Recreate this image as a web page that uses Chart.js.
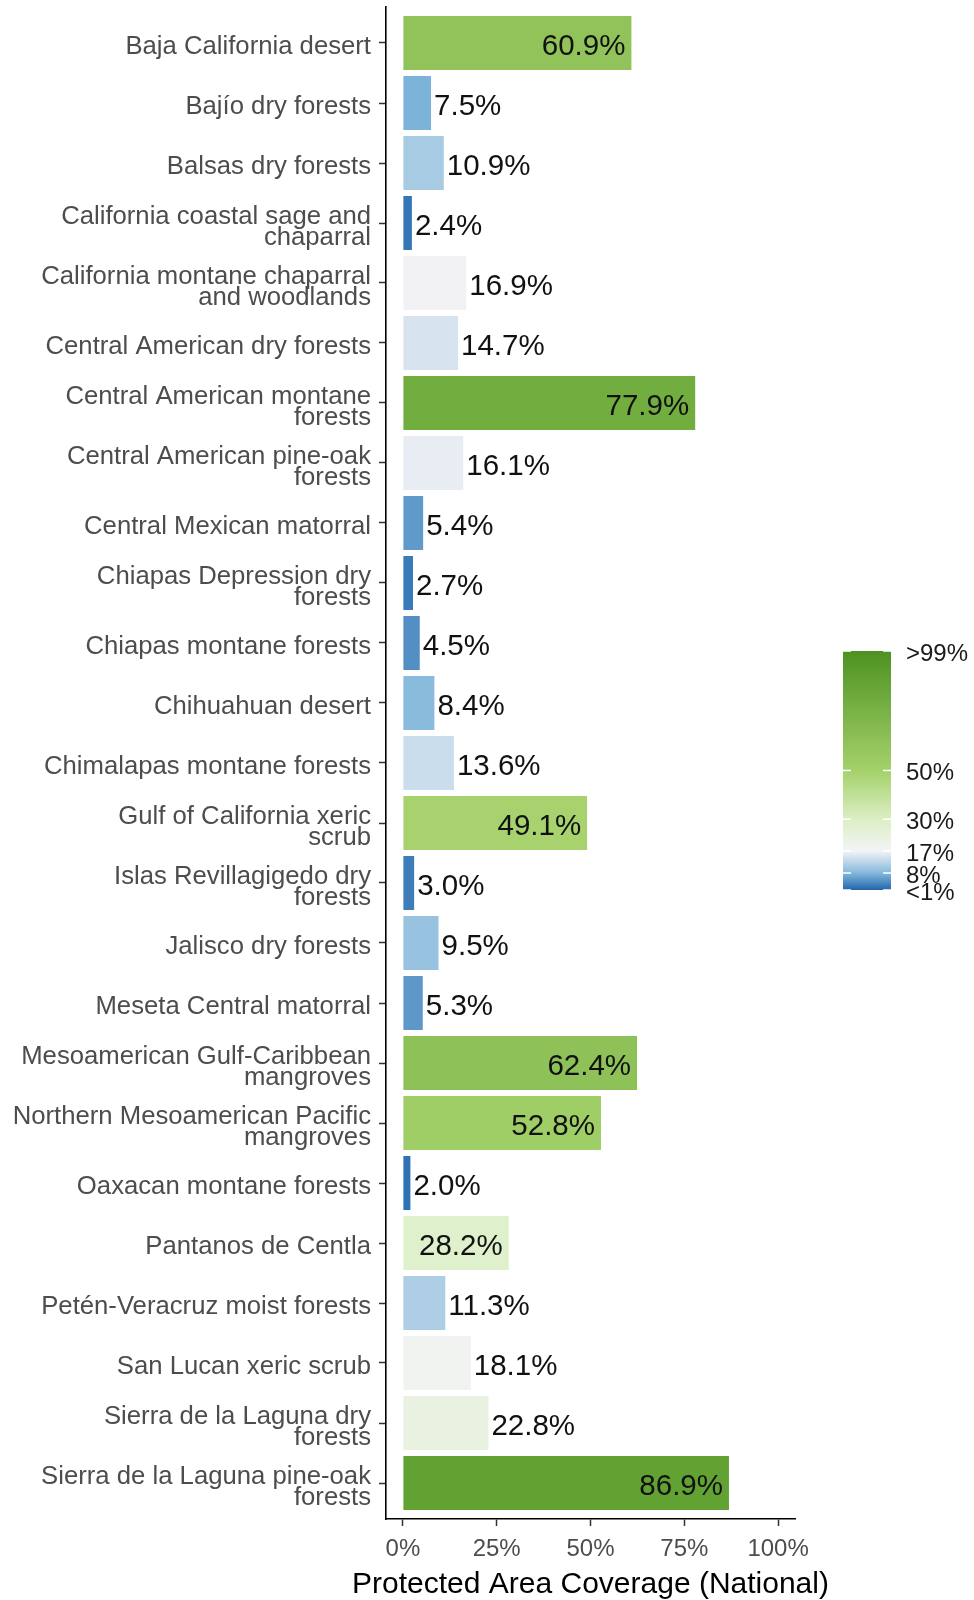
<!DOCTYPE html>
<html>
<head>
<meta charset="utf-8">
<script src="https://cdn.jsdelivr.net/npm/chart.js@4/dist/chart.umd.min.js"></script>
<style>
  body { margin: 0; background: #fff; }
  #wrap { width: 974px; height: 1600px; position: relative; }
</style>
</head>
<body>
<div id="wrap"><canvas id="chart"></canvas></div>
<script>
// --- Data ---
const ECOREGIONS = [
  ["Baja California desert"],
  ["Bajío dry forests"],
  ["Balsas dry forests"],
  ["California coastal sage and", "chaparral"],
  ["California montane chaparral", "and woodlands"],
  ["Central American dry forests"],
  ["Central American montane", "forests"],
  ["Central American pine-oak", "forests"],
  ["Central Mexican matorral"],
  ["Chiapas Depression dry", "forests"],
  ["Chiapas montane forests"],
  ["Chihuahuan desert"],
  ["Chimalapas montane forests"],
  ["Gulf of California xeric", "scrub"],
  ["Islas Revillagigedo dry", "forests"],
  ["Jalisco dry forests"],
  ["Meseta Central matorral"],
  ["Mesoamerican Gulf-Caribbean", "mangroves"],
  ["Northern Mesoamerican Pacific", "mangroves"],
  ["Oaxacan montane forests"],
  ["Pantanos de Centla"],
  ["Petén-Veracruz moist forests"],
  ["San Lucan xeric scrub"],
  ["Sierra de la Laguna dry", "forests"],
  ["Sierra de la Laguna pine-oak", "forests"],
];

const COVERAGE = [
  60.9, 7.5, 10.9, 2.4, 16.9, 14.7, 77.9, 16.1, 5.4, 2.7, 4.5, 8.4, 13.6,
  49.1, 3.0, 9.5, 5.3, 62.4, 52.8, 2.0, 28.2, 11.3, 18.1, 22.8, 86.9,
];

const X_TICKS = [0, 25, 50, 75, 100];
const X_TITLE = "Protected Area Coverage (National)";

// colour scale breaks (legend)
const LEGEND_BREAKS = [1, 8, 17, 30, 50, 99];
const LEGEND_LABELS = ["<1%", "8%", "17%", "30%", "50%", ">99%"];
const LEGEND_COLORS = ["#2166ac", "#84b8dc", "#f3f3f5", "#dcefc5", "#a4d16a", "#4d9221"];

const FONT = "'Liberation Sans', Arial, sans-serif";

// --- Colour scale ---
function hexToRgb(h) {
  const n = parseInt(h.slice(1), 16);
  return [(n >> 16) & 255, (n >> 8) & 255, n & 255];
}

function colorFor(v) {
  if (v <= LEGEND_BREAKS[0]) return LEGEND_COLORS[0];
  for (let i = 1; i < LEGEND_BREAKS.length; i++) {
    if (v <= LEGEND_BREAKS[i]) {
      const t = (v - LEGEND_BREAKS[i - 1]) / (LEGEND_BREAKS[i] - LEGEND_BREAKS[i - 1]);
      const a = hexToRgb(LEGEND_COLORS[i - 1]);
      const b = hexToRgb(LEGEND_COLORS[i]);
      const c = a.map((x, k) => Math.round(x + (b[k] - x) * t));
      return `rgb(${c[0]},${c[1]},${c[2]})`;
    }
  }
  return LEGEND_COLORS[LEGEND_COLORS.length - 1];
}

// --- Plugins ---
const valueLabels = {
  id: "valueLabels",
  afterDatasetsDraw(chart) {
    const { ctx } = chart;
    const meta = chart.getDatasetMeta(0);
    ctx.save();
    ctx.font = "29.5px " + FONT;
    ctx.fillStyle = "#111";
    ctx.textBaseline = "middle";
    meta.data.forEach((bar, i) => {
      const v = COVERAGE[i];
      const txt = v.toFixed(1) + "%";
      if (v > 25) {
        ctx.textAlign = "right";
        ctx.fillText(txt, bar.x - 6, bar.y + 4);
      } else {
        ctx.textAlign = "left";
        ctx.fillText(txt, bar.x + 3, bar.y + 4);
      }
    });
    ctx.restore();
  },
};

// axis title drawn here so it is not squeezed to the plot width
const axisTitle = {
  id: "axisTitle",
  afterDraw(chart) {
    const { ctx, chartArea } = chart;
    ctx.save();
    ctx.font = "30px " + FONT;
    ctx.fillStyle = "#000";
    ctx.textAlign = "center";
    ctx.textBaseline = "middle";
    ctx.fillText(X_TITLE, (chartArea.left + chartArea.right) / 2, 1585);
    ctx.restore();
  },
};

const colorBar = {
  id: "colorBar",
  afterDraw(chart) {
    const { ctx } = chart;
    const x0 = 843, x1 = 891, yTop = 651, yBot = 890;
    const lo = LEGEND_BREAKS[0], hi = LEGEND_BREAKS[LEGEND_BREAKS.length - 1];
    const yOf = v => yBot - (v - lo) / (hi - lo) * (yBot - yTop);

    ctx.save();
    const grad = ctx.createLinearGradient(0, yBot, 0, yTop);
    LEGEND_BREAKS.forEach((b, i) => grad.addColorStop((b - lo) / (hi - lo), LEGEND_COLORS[i]));
    ctx.fillStyle = grad;
    ctx.fillRect(x0, yTop, x1 - x0, yBot - yTop);

    ctx.strokeStyle = "#fff";
    ctx.lineWidth = 1.5;
    ctx.font = "24px " + FONT;
    ctx.fillStyle = "#1a1a1a";
    ctx.textAlign = "left";
    ctx.textBaseline = "middle";
    LEGEND_BREAKS.forEach((b, i) => {
      const y = yOf(b);
      ctx.beginPath();
      ctx.moveTo(x0, y); ctx.lineTo(x0 + 8, y);
      ctx.moveTo(x1 - 8, y); ctx.lineTo(x1, y);
      ctx.stroke();
      ctx.fillText(LEGEND_LABELS[i], 906, y + 3);
    });
    ctx.restore();
  },
};

// --- Chart ---
const ctx = document.getElementById("chart").getContext("2d");
new Chart(ctx, {
  type: "bar",
  data: {
    datasets: [{
      data: COVERAGE.map((v, i) => ({ x: v, y: i })),
      backgroundColor: COVERAGE.map(colorFor),
      borderWidth: 0,
      barPercentage: 0.9,
      categoryPercentage: 1.0,
    }],
  },
  options: {
    indexAxis: "y",
    responsive: true,
    maintainAspectRatio: false,
    animation: false,
    layout: { padding: { left: 0, right: 179, top: 7, bottom: 0 } },
    plugins: {
      legend: { display: false },
      tooltip: { enabled: false },
    },
    scales: {
      x: {
        type: "linear",
        min: -4.5,
        max: 104.5,
        afterBuildTicks: s => { s.ticks = X_TICKS.map(v => ({ value: v })); },
        afterFit: s => { s.height = 81; s.paddingLeft = 0; s.paddingRight = 0; },
        grid: { drawOnChartArea: false, drawTicks: true, tickLength: 7, tickColor: "#333", tickWidth: 1.5 },
        border: { display: true, color: "#000", width: 1.6 },
        ticks: {
          color: "#4d4d4d",
          padding: 9,
          maxRotation: 0,
          autoSkip: false,
          font: { family: FONT, size: 24, lineHeight: 1.2 },
          callback: v => v + "%",
        },
      },
      y: {
        type: "linear",
        min: -0.6,
        max: 24.6,
        reverse: true,
        offset: false,
        afterBuildTicks: s => { s.ticks = ECOREGIONS.map((_, i) => ({ value: i })); },
        afterFit: s => { s.width = 386; s.paddingTop = 0; s.paddingBottom = 0; },
        grid: { offset: false, drawOnChartArea: false, drawTicks: true, tickLength: 7, tickColor: "#333", tickWidth: 1.5 },
        border: { display: true, color: "#000", width: 1.6 },
        ticks: {
          color: "#4d4d4d",
          padding: 8,
          labelOffset: 4,
          autoSkip: false,
          font: { family: FONT, size: 25.7, lineHeight: 0.82 },
          callback: v => ECOREGIONS[v],
        },
      },
    },
  },
  plugins: [valueLabels, axisTitle, colorBar],
});
</script>
</body>
</html>
